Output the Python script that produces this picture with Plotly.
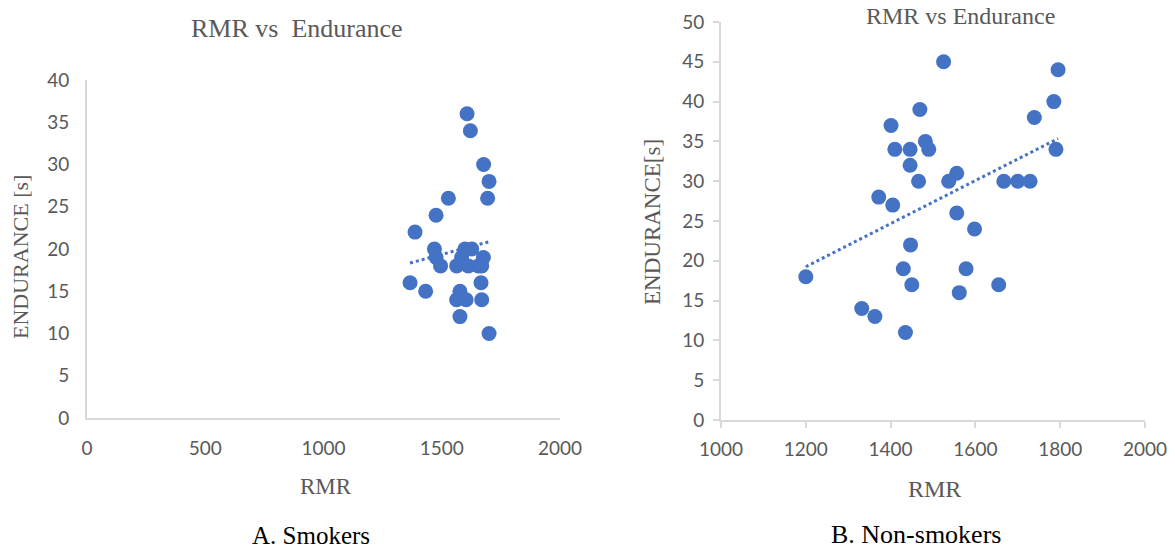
import numpy as np
import plotly.graph_objects as go

# Smokers (A)
smk_rmr = [1607, 1621, 1677, 1700, 1694, 1528, 1476, 1387, 1469, 1598, 1627, 1476, 1584, 1676,
           1495, 1563, 1612, 1655, 1669, 1366, 1666, 1432, 1577, 1563, 1603, 1669, 1577, 1700]
smk_end = [36, 34, 30, 28, 26, 26, 24, 22, 20, 20, 20, 19, 19, 19,
           18, 18, 18, 18, 18, 16, 16, 15, 15, 14, 14, 14, 12, 10]

# Non-smokers (B)
non_rmr = [1525, 1795, 1785, 1739, 1790, 1469, 1401, 1410, 1446, 1482, 1490, 1446, 1466, 1556,
           1537, 1667, 1700, 1729, 1372, 1405, 1556, 1598, 1447, 1430, 1578, 1200, 1450, 1655,
           1562, 1332, 1363, 1435]
non_end = [45, 44, 40, 38, 34, 39, 37, 34, 34, 35, 34, 32, 30, 31,
           30, 30, 30, 30, 28, 27, 26, 24, 22, 19, 19, 18, 17, 17,
           16, 14, 13, 11]

left_xticks = [0, 500, 1000, 1500, 2000]
left_yticks = [0, 5, 10, 15, 20, 25, 30, 35, 40]
right_xticks = [1000, 1200, 1400, 1600, 1800, 2000]
right_yticks = [0, 5, 10, 15, 20, 25, 30, 35, 40, 45, 50]

BLUE = "#4472C4"
GRAY = "#595959"
AXC = "#D9D9D9"
W, H = 1175, 551


def trend(x, y):
    x = np.asarray(x, float)
    y = np.asarray(y, float)
    m, b = np.polyfit(x, y, 1)
    xs = np.array([x.min(), x.max()])
    return xs, m * xs + b


fig = go.Figure()

fig.add_trace(go.Scatter(x=smk_rmr, y=smk_end, mode="markers",
                         marker=dict(color=BLUE, size=15, line=dict(width=0)),
                         xaxis="x", yaxis="y", showlegend=False))
tx, ty = trend(smk_rmr, smk_end)
fig.add_trace(go.Scatter(x=tx, y=ty, mode="lines",
                         line=dict(color=BLUE, width=3, dash="dot"),
                         xaxis="x", yaxis="y", showlegend=False))

fig.add_trace(go.Scatter(x=non_rmr, y=non_end, mode="markers",
                         marker=dict(color=BLUE, size=15, line=dict(width=0)),
                         xaxis="x2", yaxis="y2", showlegend=False))
tx2, ty2 = trend(non_rmr, non_end)
fig.add_trace(go.Scatter(x=tx2, y=ty2, mode="lines",
                         line=dict(color=BLUE, width=3, dash="dot"),
                         xaxis="x2", yaxis="y2", showlegend=False))

tickfont = dict(family="Lato, sans-serif", size=19, color=GRAY)
common = dict(showgrid=False, zeroline=False, showline=True, linecolor=AXC, linewidth=2,
              tickfont=tickfont, automargin=False)

fig.update_layout(
    width=W, height=H,
    margin=dict(l=0, r=0, t=0, b=0, autoexpand=False),
    paper_bgcolor="white", plot_bgcolor="white",
    xaxis=dict(domain=[87 / W, 560 / W], range=[0, 2000], tickvals=left_xticks,
               ticks="", anchor="y", ticklabelstandoff=12, **common),
    yaxis=dict(domain=[1 - 418 / H, 1 - 80 / H], range=[0, 40], tickvals=left_yticks,
               ticks="", anchor="x", ticklabelstandoff=12, **common),
    xaxis2=dict(domain=[721 / W, 1145 / W], range=[1000, 2000], tickvals=right_xticks,
                ticks="outside", ticklen=6, tickcolor=AXC, tickwidth=2,
                anchor="y2", ticklabelstandoff=5, **common),
    yaxis2=dict(domain=[1 - 420 / H, 1 - 22 / H], range=[0, 50], tickvals=right_yticks,
                ticks="outside", ticklen=6, tickcolor=AXC, tickwidth=2,
                anchor="x2", ticklabelstandoff=5, **common),
)

serif = "Liberation Serif, Times New Roman, serif"


def ann(text, x, y, size, color=GRAY, angle=0):
    fig.add_annotation(text=text, x=x / W, y=1 - y / H, xref="paper", yref="paper",
                       showarrow=False, font=dict(family=serif, size=size, color=color),
                       textangle=angle, xanchor="center", yanchor="middle")


ann("RMR vs&nbsp;&nbsp;Endurance", 297, 28, 26)
ann("RMR vs Endurance", 960, 16, 24)
ann("ENDURANCE [s]", 20, 257, 22, angle=-90)
ann("ENDURANCE[s]", 652, 222, 23, angle=-90)
ann("RMR", 326, 486, 23)
ann("RMR", 934, 489, 24)
ann("A. Smokers", 311, 535, 25, color="black")
ann("B. Non-smokers", 916, 534, 26, color="black")

fig.write_html("out.html")
